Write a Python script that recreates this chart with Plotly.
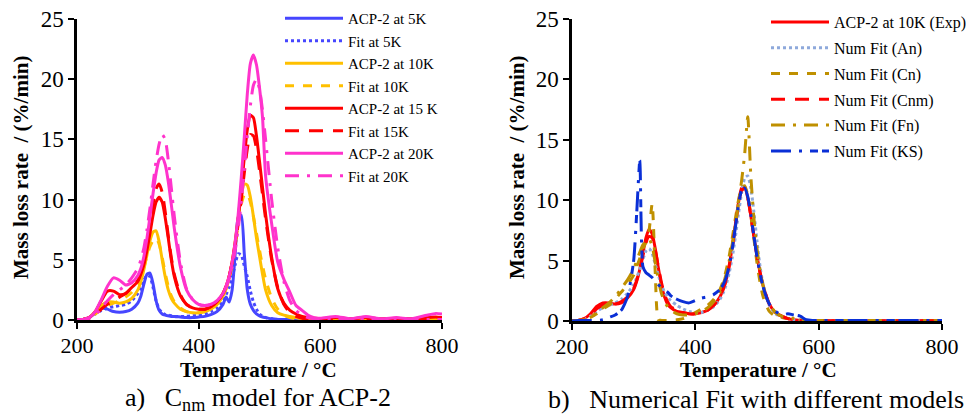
import plotly.graph_objects as go

# Temperature grid (°C)
temperature = [200,210,220,230,240,250,260,270,280,290,300,
               305,310,315,320,325,330,335,340,345,350,355,360,
               370,380,390,400,410,420,430,440,
               445,450,455,460,465,470,475,480,485,490,495,500,505,510,
               520,530,540,550,560,570,580,590,600,
               625,650,675,700,725,750,775,790,800]

# ---- Panel a) Cnm model for ACP-2 ----
acp_5k = [0,0.05,0.2,0.6,1.0,0.9,0.7,0.65,0.7,0.9,1.4,
          2.0,3.0,3.8,3.9,3.0,1.6,0.8,0.5,0.4,0.35,0.3,0.3,
          0.25,0.2,0.2,0.25,0.3,0.45,0.7,1.3,
          1.9,1.5,2.5,5.5,8.5,8.7,5.5,2.5,1.3,0.8,0.5,0.35,0.25,0.2,
          0.1,0.05,0.05,0.05,0.02,0.02,0.02,0.02,0.05,
          0.1,0.05,0.1,0.05,0.1,0.05,0.1,0.15,0.1]
fit_5k = [0,0.05,0.2,0.5,0.8,1.0,1.1,1.2,1.3,1.6,2.2,
          2.7,3.3,3.7,3.6,2.7,1.6,0.9,0.6,0.45,0.4,0.35,0.3,
          0.3,0.3,0.35,0.4,0.5,0.7,1.0,1.6,
          2.1,2.7,3.5,4.6,5.5,5.4,4.5,3.6,2.4,1.5,0.9,0.5,0.3,0.2,
          0.1,0.05,0.03,0.02,0.02,0.02,0.02,0.02,0.02,
          0.02,0.02,0.02,0.02,0.02,0.02,0.02,0.02,0.02]
acp_10k = [0,0.05,0.2,0.7,1.2,1.5,1.5,1.4,1.5,1.8,2.5,
           3.2,4.2,5.4,6.6,7.3,7.4,6.5,5.0,3.6,2.5,1.8,1.4,
           0.9,0.7,0.6,0.6,0.7,0.9,1.3,2.0,
           2.6,3.5,4.8,6.5,8.5,10.3,11.3,11.2,10.2,8.6,6.8,5.3,3.8,2.5,
           1.2,0.6,0.4,0.3,0.2,0.1,0.05,0.05,0.05,
           0.1,0.05,0.1,0.05,0.1,0.05,0.1,0.1,0.05]
fit_10k = [0,0.05,0.2,0.5,0.9,1.2,1.4,1.6,1.9,2.3,3.0,
           3.6,4.4,5.3,6.1,6.6,6.8,6.3,5.2,3.9,2.8,2.0,1.5,
           1.0,0.7,0.6,0.6,0.7,0.9,1.3,2.0,
           2.6,3.4,4.6,6.2,8.0,9.6,10.4,10.5,9.8,8.6,7.2,5.8,4.5,3.4,
           1.8,0.9,0.4,0.2,0.1,0.05,0.03,0.02,0.02,
           0.02,0.02,0.02,0.02,0.02,0.02,0.02,0.02,0.02]
acp_15k = [0,0.05,0.2,0.7,1.6,2.4,2.4,2.1,2.2,2.7,3.2,
           3.8,4.6,5.8,7.2,8.7,9.8,10.2,9.8,8.5,6.8,5.0,3.6,
           2.0,1.3,1.0,0.9,0.9,1.1,1.5,2.2,
           2.8,3.6,4.8,6.4,8.4,10.8,13.5,15.8,17.0,16.8,15.3,13.2,11.0,8.8,
           5.2,2.6,1.4,0.8,0.5,0.3,0.2,0.15,0.1,
           0.2,0.1,0.2,0.1,0.15,0.1,0.2,0.25,0.2]
fit_15k = [0,0.05,0.15,0.4,0.9,1.3,1.6,1.9,2.2,2.7,3.3,
           4.0,5.0,6.3,7.9,9.6,10.9,11.3,10.6,9.0,7.0,5.2,3.8,
           2.1,1.3,1.0,0.9,0.9,1.1,1.5,2.2,
           2.8,3.6,4.8,6.2,8.0,10.0,12.2,14.2,15.4,15.3,14.2,12.4,10.4,8.4,
           5.0,2.7,1.3,0.6,0.3,0.15,0.1,0.05,0.05,
           0.05,0.05,0.05,0.05,0.05,0.05,0.05,0.05,0.05]
acp_20k = [0,0.05,0.2,0.7,1.7,2.8,3.5,3.3,2.9,3.1,3.7,
           4.3,5.3,6.8,8.6,10.5,12.2,13.3,13.5,12.9,11.5,9.6,7.6,
           4.4,2.5,1.7,1.3,1.2,1.3,1.6,2.2,
           2.8,3.6,4.8,6.5,8.8,11.8,15.2,18.8,21.3,22.0,21.2,19.3,16.8,12.0,
           8.0,4.8,3.4,2.3,1.2,0.8,0.4,0.2,0.15,
           0.3,0.1,0.3,0.1,0.2,0.1,0.4,0.55,0.5]
fit_20k = [0,0.05,0.15,0.4,1.0,1.6,2.1,2.5,2.9,3.5,4.3,
           5.0,6.0,7.5,9.3,11.3,13.2,14.6,15.4,15.0,13.3,11.0,8.6,
           4.8,2.6,1.7,1.3,1.2,1.3,1.6,2.2,
           2.7,3.4,4.4,5.8,7.6,9.8,12.5,15.3,17.8,19.5,20.0,19.2,17.4,15.0,
           10.0,6.0,3.2,1.6,0.8,0.4,0.2,0.1,0.05,
           0.05,0.05,0.05,0.05,0.05,0.05,0.05,0.05,0.05]

# ---- Panel b) Numerical fit with different models ----
exp_10k = [0,0.05,0.2,0.6,1.2,1.5,1.5,1.4,1.5,1.9,2.6,
           3.3,4.3,5.6,6.9,7.6,7.2,6.0,4.4,3.0,2.0,1.4,1.1,
           0.8,0.7,0.6,0.6,0.7,0.9,1.3,2.0,
           2.6,3.4,4.6,6.2,8.0,9.8,11.0,11.1,10.2,8.7,7.0,5.4,4.0,2.9,
           1.4,0.7,0.4,0.2,0.1,0.05,0.02,0.02,0.02,
           0.02,0.02,0.02,0.02,0.02,0.02,0.02,0.02,0.02]
num_an = [0,0.05,0.15,0.4,0.8,1.1,1.3,1.5,1.8,2.3,3.0,
          3.6,4.3,5.1,5.8,6.0,5.6,4.7,3.8,3.0,2.4,2.0,1.7,
          1.3,1.0,0.8,0.7,0.7,0.9,1.2,1.8,
          2.3,3.0,4.0,5.3,7.0,8.9,10.6,11.8,12.0,11.0,9.0,6.6,4.5,3.0,
          1.3,0.6,0.3,0.2,0.1,0.05,0.03,0.03,0.03,
          0.03,0.03,0.03,0.03,0.03,0.03,0.03,0.03,0.03]
num_cn = [0,0.05,0.1,0.3,0.6,1.0,1.3,1.8,2.4,3.0,3.8,
          4.5,5.2,6.0,6.5,7.5,9.7,4.0,0.1,0.05,0.05,0.05,0.05,
          0.1,0.2,0.4,0.7,1.0,1.3,1.8,2.6,
          3.3,4.2,5.4,6.9,8.5,10.0,11.0,11.2,10.4,8.8,6.8,4.8,3.2,2.0,
          0.8,0.4,0.3,0.2,0.2,0.1,0.05,0.05,0.05,
          0.05,0.05,0.05,0.05,0.05,0.05,0.05,0.05,0.05]
num_cnm = [0,0.05,0.2,0.5,1.0,1.3,1.4,1.4,1.6,2.0,2.7,
           3.4,4.3,5.4,6.5,7.0,6.9,5.9,4.5,3.2,2.2,1.6,1.2,
           0.9,0.7,0.6,0.6,0.7,0.9,1.3,2.0,
           2.6,3.4,4.6,6.1,7.9,9.7,10.8,11.0,10.2,8.7,7.0,5.4,4.0,2.9,
           1.4,0.7,0.4,0.2,0.1,0.05,0.03,0.03,0.03,
           0.03,0.03,0.03,0.03,0.03,0.03,0.03,0.03,0.03]
num_fn = [0,0.05,0.1,0.3,0.7,1.1,1.5,2.0,2.7,3.4,4.3,
          5.0,5.7,6.3,6.6,6.8,6.2,4.8,3.4,2.3,1.6,1.2,0.9,
          0.6,0.5,0.5,0.6,0.8,1.1,1.6,2.4,
          3.0,3.9,5.0,6.4,8.0,9.8,11.6,13.8,16.9,12.0,8.5,6.0,4.2,2.9,
          1.4,0.7,0.4,0.3,0.2,0.05,0.05,0.05,0.05,
          0.05,0.05,0.05,0.05,0.05,0.05,0.05,0.05,0.05]
num_ks = [0,0.05,0.05,0.05,0.05,0.1,0.3,0.5,0.9,2.0,5.0,
          9.0,13.3,4.5,4.0,3.8,3.6,3.3,3.0,2.8,2.6,2.4,2.1,
          1.8,1.6,1.5,1.7,1.9,2.0,2.2,2.6,
          3.0,3.6,4.6,6.0,7.8,9.6,10.8,11.0,10.3,8.8,7.0,5.3,3.9,2.8,
          1.4,0.8,0.5,0.6,0.5,0.4,0.1,0.05,0.05,
          0.05,0.05,0.05,0.05,0.05,0.05,0.05,0.05,0.05]

serif = "Liberation Serif"
BLUE, ORANGE, RED, MAGENTA = "#4646FF", "#FFC000", "#FF0000", "#FF33CC"
LIGHTBLUE, GOLD, DEEPBLUE = "#8EA9DB", "#BF9000", "#0A2FD6"

left = [
    ("ACP-2 at 5K", acp_5k, BLUE, "solid"),
    ("Fit at 5K", fit_5k, BLUE, "dot"),
    ("ACP-2 at 10K", acp_10k, ORANGE, "solid"),
    ("Fit at 10K", fit_10k, ORANGE, "dash"),
    ("ACP-2 at 15 K", acp_15k, RED, "solid"),
    ("Fit at 15K", fit_15k, RED, "14px,10px"),
    ("ACP-2 at 20K", acp_20k, MAGENTA, "solid"),
    ("Fit at 20K", fit_20k, MAGENTA, "14px,8px,3px,8px"),
]
right = [
    ("ACP-2 at 10K (Exp)", exp_10k, RED, "solid"),
    ("Num Fit (An)", num_an, LIGHTBLUE, "dot"),
    ("Num Fit (Cn)", num_cn, GOLD, "dash"),
    ("Num Fit (Cnm)", num_cnm, RED, "14px,10px"),
    ("Num Fit (Fn)", num_fn, GOLD, "14px,8px,3px,8px"),
    ("Num Fit (KS)", num_ks, DEEPBLUE, "20px,8px,3px,8px,8px,4px"),
]

fig = go.Figure()
for i, (name, vals, col, dash) in enumerate(left):
    fig.add_trace(go.Scatter(x=temperature, y=vals, name=name, mode="lines",
                             line=dict(color=col, width=3, dash=dash, shape="spline", smoothing=0.6),
                             xaxis="x", yaxis="y", legend="legend", legendgroup=f"a{i}"))
for i, (name, vals, col, dash) in enumerate(right):
    fig.add_trace(go.Scatter(x=temperature, y=vals, name=name, mode="lines",
                             line=dict(color=col, width=3, dash=dash, shape="spline", smoothing=0.6),
                             xaxis="x2", yaxis="y2", legend="legend2", legendgroup=f"b{i}"))

W, H = 976, 417
def px(x): return x / W
def py(y): return 1 - y / H

axis_common = dict(showline=True, linecolor="black", linewidth=2.5, ticks="outside",
                   ticklen=6, tickwidth=2, tickcolor="black", showgrid=False, zeroline=False,
                   automargin=False, layer="below traces")
xfont = dict(family=serif, size=22, color="black")
yfont = dict(family=serif, size=23, color="black")
xticks = [200, 400, 600, 800]
fig.update_layout(
    width=W, height=H, margin=dict(l=0, r=0, t=0, b=0),
    paper_bgcolor="white", plot_bgcolor="white",
    xaxis=dict(domain=[px(77), px(442)], range=[200, 800], tickvals=xticks, anchor="y",
               tickfont=xfont, ticklabelstandoff=-2, **axis_common),
    yaxis=dict(domain=[py(320), py(19)], range=[0, 25], dtick=5, anchor="x", tickfont=yfont, **axis_common),
    xaxis2=dict(domain=[px(572), px(942)], range=[200, 800], tickvals=xticks, anchor="y2",
                tickfont=xfont, ticklabelstandoff=-2, **axis_common),
    yaxis2=dict(domain=[py(321), py(19)], range=[0, 25], dtick=5, anchor="x2", tickfont=yfont, **axis_common),
    legend=dict(x=px(280), y=py(2), xanchor="left", yanchor="top", bgcolor="rgba(0,0,0,0)",
                font=dict(family=serif, size=15, color="black"), tracegroupgap=0, itemwidth=58),
    legend2=dict(x=px(766), y=py(5), xanchor="left", yanchor="top", bgcolor="rgba(0,0,0,0)",
                 font=dict(family=serif, size=16, color="black"), tracegroupgap=2, itemwidth=58),
    showlegend=True,
)

title_font = dict(family=serif, size=21, color="black")
ann = []
for cx, ycx in [(258, 21), (758, 517)]:
    ann.append(dict(text="<b>Temperature / °C</b>", x=px(cx), y=py(370), xref="paper", yref="paper",
                    showarrow=False, font=title_font, xanchor="center", yanchor="middle"))
    ann.append(dict(text="<b>Mass loss rate  / (%/min)</b>", x=px(ycx), y=py(168), xref="paper", yref="paper",
                    showarrow=False, font=title_font, textangle=-90, xanchor="center", yanchor="middle"))
sub_font = dict(family=serif, size=26, color="black")
ann.append(dict(text="a)   C<sub>nm</sub> model for ACP-2", x=px(258), y=py(399), xref="paper", yref="paper",
                showarrow=False, font=sub_font, xanchor="center", yanchor="middle"))
ann.append(dict(text="b)   Numerical Fit with different models", x=px(756), y=py(399), xref="paper", yref="paper",
                showarrow=False, font=sub_font, xanchor="center", yanchor="middle"))
fig.update_layout(annotations=ann)

post = """
document.body.style.margin = '0';
var gd = document.getElementById('{plot_id}');
gd.querySelectorAll('.legendlines path').forEach(function(p){ p.setAttribute('d', 'M5,0h58'); });
"""
fig.write_html("out.html", post_script=post, config={"displayModeBar": False})
